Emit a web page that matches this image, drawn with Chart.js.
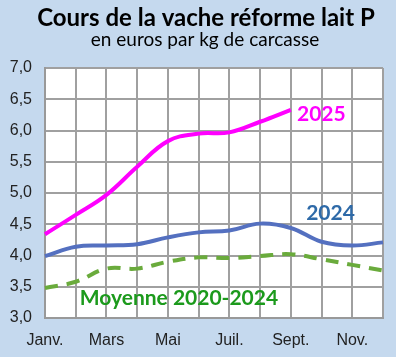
<!DOCTYPE html>
<html><head><meta charset="utf-8">
<script src="https://cdn.jsdelivr.net/npm/chart.js@4/dist/chart.umd.min.js"></script>
<style>
html,body{margin:0;padding:0;background:#c5d9ee;}
#wrap{width:396px;height:357px;position:relative;}
</style></head>
<body><div id="wrap"><canvas id="c" width="396" height="357"></canvas></div>
<script>
const titleText = "Cours de la vache réforme lait P";
const subtitleText = "en euros par kg de carcasse";
const months = ["Janv.","Févr.","Mars","Avr.","Mai","Juin","Juil.","Août","Sept.","Oct.","Nov.","Déc."];
const shownMonths = ["Janv.","Mars","Mai","Juil.","Sept.","Nov."];
const yTicks = [3.0,3.5,4.0,4.5,5.0,5.5,6.0,6.5,7.0];
const serie2025 = [4.34,4.65,4.97,5.42,5.83,5.95,5.97,6.14,6.33];
const serie2024 = [3.99,4.14,4.16,4.18,4.29,4.37,4.40,4.51,4.44,4.22,4.16,4.21];
const moyenne = [3.48,3.58,3.79,3.79,3.90,3.97,3.96,3.99,4.02,3.94,3.85,3.76];
const labelNames = ["2025","2024","Moyenne 2020-2024"];
const labelAnchors = [[8.2,6.26],[8.5,4.68],[1.13,3.32]];

const textPlugin = {
  id:'texts',
  afterDraw(chart){
    const ctx = chart.ctx, xs = chart.scales.x, ys = chart.scales.y;
    ctx.save();
    ctx.textAlign='center'; ctx.textBaseline='middle'; ctx.fillStyle='#000';
    ctx.font='bold 24px Lato';
    ctx.fillText(titleText, 206, 18);
    ctx.font='19px Lato';
    ctx.fillText(subtitleText, 205, 40);
    const cols=['#ff00ff','#2e6aa8','#1c9a1c'];
    ctx.textAlign='left';
    ctx.font='bold 21px Lato';
    labelNames.forEach((n,i)=>{
      ctx.fillStyle=cols[i];
      ctx.fillText(n, xs.getPixelForValue(labelAnchors[i][0]), ys.getPixelForValue(labelAnchors[i][1]));
    });
    ctx.restore();
  }
};
const bgPlugin = {
  id:'bg',
  beforeDraw(chart){
    const {ctx, chartArea:a} = chart;
    ctx.save(); ctx.fillStyle='#c5d9ee'; ctx.fillRect(0,0,chart.width,chart.height);
    ctx.fillStyle='#fff'; ctx.fillRect(a.left,a.top,a.right-a.left,a.bottom-a.top); ctx.restore();
  }
};

new Chart(document.getElementById('c'),{
  type:'line',
  data:{labels:months,datasets:[
    {data:moyenne,borderColor:'#6aab3c',borderWidth:4,borderDash:[13,9],pointRadius:0,tension:0.4,fill:false},
    {data:serie2024,borderColor:'#5470c0',borderWidth:4,pointRadius:0,tension:0.4,fill:false},
    {data:serie2025,borderColor:'#ff00ff',borderWidth:4,pointRadius:0,tension:0.4,fill:false}
  ]},
  options:{
    responsive:false,animation:false,
    layout:{padding:{left:0,right:11,top:68,bottom:0}},
    plugins:{legend:{display:false},tooltip:{enabled:false},title:{display:false}},
    scales:{
      x:{offset:false,
        grid:{color:'#a0a0a0',lineWidth:2,drawTicks:false},
        border:{color:'#999',width:2},
        ticks:{autoSkip:false,maxRotation:0,padding:13,color:'#222',font:{family:'Liberation Sans',size:16},
          callback:(v,i)=>shownMonths.includes(months[i])?months[i]:''},
        afterFit:(s)=>{s.height=39;}
      },
      y:{min:3,max:7,
        grid:{color:'#a0a0a0',lineWidth:2,drawTicks:false},
        border:{color:'#999',width:2},
        afterBuildTicks:(s)=>{s.ticks=yTicks.map(v=>({value:v}));},
        ticks:{padding:13,color:'#222',font:{family:'Liberation Sans',size:16},
          callback:(v)=>v.toFixed(1).replace('.',',')},
        afterFit:(s)=>{s.width=45;}
      }
    }
  },
  plugins:[bgPlugin,textPlugin]
});
</script></body></html>
